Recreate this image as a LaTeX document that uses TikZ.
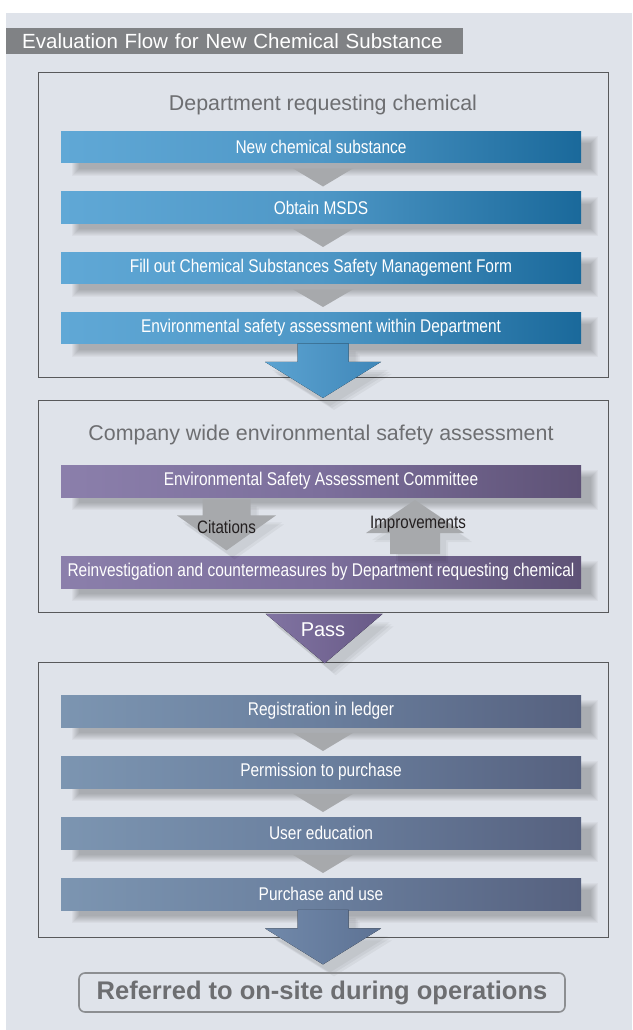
\documentclass[tikz,border=0pt]{standalone}
\usepackage{fontspec}
\setmainfont{Liberation Sans}
\newfontfamily\condfont[FakeStretch=0.84]{Liberation Sans}
\usetikzlibrary{calc}

\definecolor{panel}{HTML}{DFE3EA}
\definecolor{titlegray}{HTML}{808285}
\definecolor{framec}{HTML}{58595B}
\definecolor{headc}{HTML}{6D6E71}
\definecolor{trigray}{HTML}{A7A9AC}
\definecolor{labelc}{HTML}{231F20}
\definecolor{refborder}{HTML}{8C8E91}
% bar gradients
\definecolor{blueL}{HTML}{60A8D6}
\definecolor{blueM}{HTML}{4E97C6}
\definecolor{blueR}{HTML}{1A699B}
\definecolor{purL}{HTML}{8B7FAB}
\definecolor{purM}{HTML}{7C6F9C}
\definecolor{purR}{HTML}{5E5276}
\definecolor{slateL}{HTML}{7C95B1}
\definecolor{slateM}{HTML}{6A7F9E}
\definecolor{slateR}{HTML}{56617F}
% big arrows
\definecolor{abL}{HTML}{5CA3D1}
\definecolor{abR}{HTML}{3F87B9}
\definecolor{apL}{HTML}{8174A2}
\definecolor{apR}{HTML}{685A87}
\definecolor{asL}{HTML}{7189AA}
\definecolor{asR}{HTML}{5D7294}

\pgfdeclarehorizontalshading{blueshade}{100bp}{color(0bp)=(blueL); color(25bp)=(blueL); color(50bp)=(blueM); color(75bp)=(blueR); color(100bp)=(blueR)}
\pgfdeclarehorizontalshading{purshade}{100bp}{color(0bp)=(purL); color(25bp)=(purL); color(50bp)=(purM); color(75bp)=(purR); color(100bp)=(purR)}
\pgfdeclarehorizontalshading{slateshade}{100bp}{color(0bp)=(slateL); color(25bp)=(slateL); color(50bp)=(slateM); color(75bp)=(slateR); color(100bp)=(slateR)}

\tikzset{
  frame/.style={draw=framec, line width=1.3pt, inner sep=0pt, anchor=north west},
  head/.style={text=headc, font=\fontsize{21.4}{24}\selectfont, inner sep=0pt},
  bar/.style={minimum width=520pt, minimum height=31.5pt, inner sep=0pt, anchor=north,
    text=white, font=\condfont\fontsize{18.4}{20}\selectfont},
  bluebar/.style={bar, shading=blueshade},
  purbar/.style={bar, shading=purshade},
  slatebar/.style={bar, shading=slateshade},
  tri/.style={fill=trigray},
  shadowlayer/.style={fill=black, opacity=0.03},
  arrowshadow/.style={fill=black, opacity=0.045},
  bigblue/.style={left color=abL, right color=abR},
  bigpur/.style={left color=apL, right color=apR},
  bigslate/.style={left color=asL, right color=asR},
  fb/.style={fill=trigray},
  fblabel/.style={text=labelc, font=\condfont\fontsize{18}{20}\selectfont, inner sep=0pt},
}

% soft drop shadow under a bar
\newcommand\barshadow[1]{%
  \foreach \r in {-3,...,4}{%
    \fill[shadowlayer] ($(#1.north west)+(15-\r,9-\r)$) rectangle ($(#1.south east)+(13+\r,9+\r)$);}}
% small connector triangle between two bars
\newcommand\smalltri[2]{%
  \fill[tri] ($(#1.south)+(-28,5.5)$) -- ($(#1.south)+(32,5.5)$) -- ($(#2.north)+(2,-5)$) -- cycle;}
% wide block arrow leaving the bottom of a bar; #2 is an offset
\newcommand\bigdownpath[2]{($(#1.south)+(#2)+(-23.5,-0.5)$) -- ($(#1.south)+(#2)+(27.5,-0.5)$)
  -- ($(#1.south)+(#2)+(27.5,18)$) -- ($(#1.south)+(#2)+(60,18)$) -- ($(#1.south)+(#2)+(2,54)$)
  -- ($(#1.south)+(#2)+(-56,18)$) -- ($(#1.south)+(#2)+(-23.5,18)$) -- cycle}
\newcommand\bigdown[2]{%
  \foreach \s in {{7,8},{9,10},{11,12}}{\fill[arrowshadow] \bigdownpath{#1}{\s};}
  \fill[#2] \bigdownpath{#1}{0,0};}

\begin{document}
\begin{tikzpicture}[x=1pt,y=-1pt]
\useasboundingbox (0,0) rectangle (632,1030);
\fill[panel] (6,13) rectangle (632,1030);

% heading bar
\node[fill=titlegray, text=white, anchor=north west, minimum height=26pt, inner ysep=0pt,
  inner xsep=16pt, text width=425pt, align=left, font=\fontsize{20.5}{22}\selectfont]
  (title) at (6,28) {Evaluation Flow for New Chemical Substance};

% three group frames
\node[frame, minimum width=570pt, minimum height=305pt] (f1) at (38,72) {};
\node[frame, minimum width=570pt, minimum height=212pt] (f2) at (38,400) {};
\node[frame, minimum width=570pt, minimum height=275pt] (f3) at (38,662) {};

\node[head] (h1) at (323,105) {Department requesting chemical};
\node[head] (h2) at (321,435) {Company wide environmental safety assessment};

% --- group 1 ---
\coordinate (c1) at (321,131);
\coordinate (c2) at (321,191.5);
\coordinate (c3) at (321,252);
\coordinate (c4) at (321,312);
\foreach \n in {1,...,4}{\path (c\n) node[bar, opacity=0] (s\n) {};}
\foreach \n in {1,...,4}{\barshadow{s\n}}
\node[bluebar] (b1) at (c1) {New chemical substance};
\node[bluebar] (b2) at (c2) {Obtain MSDS};
\node[bluebar] (b3) at (c3) {Fill out Chemical Substances Safety Management Form};
\node[bluebar] (b4) at (c4) {Environmental safety assessment within Department};
\smalltri{b1}{b2}
\smalltri{b2}{b3}
\smalltri{b3}{b4}
\bigdown{b4}{bigblue}

% --- group 2 ---
\coordinate (d1) at (321,465);
\coordinate (d2) at (321,556);
\path (d1) node[bar, opacity=0, minimum height=32pt] (t1) {};
\path (d2) node[bar, opacity=0, minimum height=32pt] (t2) {};
\barshadow{t1}
\barshadow{t2}
\node[purbar, minimum height=32pt] (p1) at (d1) {Environmental Safety Assessment Committee};
\node[purbar, minimum height=32pt] (p2) at (d2) {Reinvestigation and countermeasures by Department requesting chemical};

% feedback arrows between committee and department
\foreach \s in {{6,7},{8,9}}{%
  \fill[arrowshadow] ($(p1.south)+(\s)+(-118.5,2)$) -- ($(p1.south)+(\s)+(-70.5,2)$) -- ($(p1.south)+(\s)+(-70.5,18)$)
    -- ($(p1.south)+(\s)+(-45,18)$) -- ($(p1.south)+(\s)+(-94.5,53)$) -- ($(p1.south)+(\s)+(-144,18)$)
    -- ($(p1.south)+(\s)+(-118.5,18)$) -- cycle;
  \fill[arrowshadow] ($(p2.north)+(\s)+(69,-2)$) -- ($(p2.north)+(\s)+(119,-2)$) -- ($(p2.north)+(\s)+(119,-23)$)
    -- ($(p2.north)+(\s)+(143,-23)$) -- ($(p2.north)+(\s)+(94,-56)$) -- ($(p2.north)+(\s)+(45,-23)$)
    -- ($(p2.north)+(\s)+(69,-23)$) -- cycle;}
\fill[fb] ($(p1.south)+(-118.5,2)$) -- ($(p1.south)+(-70.5,2)$) -- ($(p1.south)+(-70.5,18)$)
  -- ($(p1.south)+(-45,18)$) -- ($(p1.south)+(-94.5,53)$) -- ($(p1.south)+(-144,18)$)
  -- ($(p1.south)+(-118.5,18)$) -- cycle;
\fill[fb] ($(p2.north)+(69,-2)$) -- ($(p2.north)+(119,-2)$) -- ($(p2.north)+(119,-23)$)
  -- ($(p2.north)+(143,-23)$) -- ($(p2.north)+(94,-56)$) -- ($(p2.north)+(45,-23)$)
  -- ($(p2.north)+(69,-23)$) -- cycle;
\node[fblabel] (cit) at (226.5,527) {Citations};
\node[fblabel] (imp) at (418,524) {Improvements};

% pass arrow
\foreach \s in {{7,8},{9,10},{11,12}}{%
  \fill[arrowshadow] ($(f2.south)+(\s)+(-58,1)$) -- ($(f2.south)+(\s)+(59,1)$) -- ($(f2.south)+(\s)+(1,50)$) -- cycle;}
\fill[bigpur] ($(f2.south)+(-58,0.5)$) -- ($(f2.south)+(59,0.5)$) -- ($(f2.south)+(1,50)$) -- cycle;
\node[text=white, font=\fontsize{20}{22}\selectfont, inner sep=0pt] (pass) at (323,630) {Pass};

% --- group 3 ---
\coordinate (e1) at (321,695);
\coordinate (e2) at (321,756);
\coordinate (e3) at (321,817);
\coordinate (e4) at (321,878);
\foreach \n in {1,...,4}{\path (e\n) node[bar, opacity=0, minimum height=32pt] (u\n) {};}
\foreach \n in {1,...,4}{\barshadow{u\n}}
\node[slatebar, minimum height=32pt] (g1) at (e1) {Registration in ledger};
\node[slatebar, minimum height=32pt] (g2) at (e2) {Permission to purchase};
\node[slatebar, minimum height=32pt] (g3) at (e3) {User education};
\node[slatebar, minimum height=32pt] (g4) at (e4) {Purchase and use};
\smalltri{g1}{g2}
\smalltri{g2}{g3}
\smalltri{g3}{g4}
\bigdown{g4}{bigslate}

% closing note
\node[draw=refborder, line width=1.6pt, rounded corners=6pt, minimum width=486pt, minimum height=39pt,
  inner sep=0pt, text=headc, font=\bfseries\fontsize{25.5}{28}\selectfont]
  (ref) at (322,992.5) {Referred to on-site during operations};
\end{tikzpicture}
\end{document}
